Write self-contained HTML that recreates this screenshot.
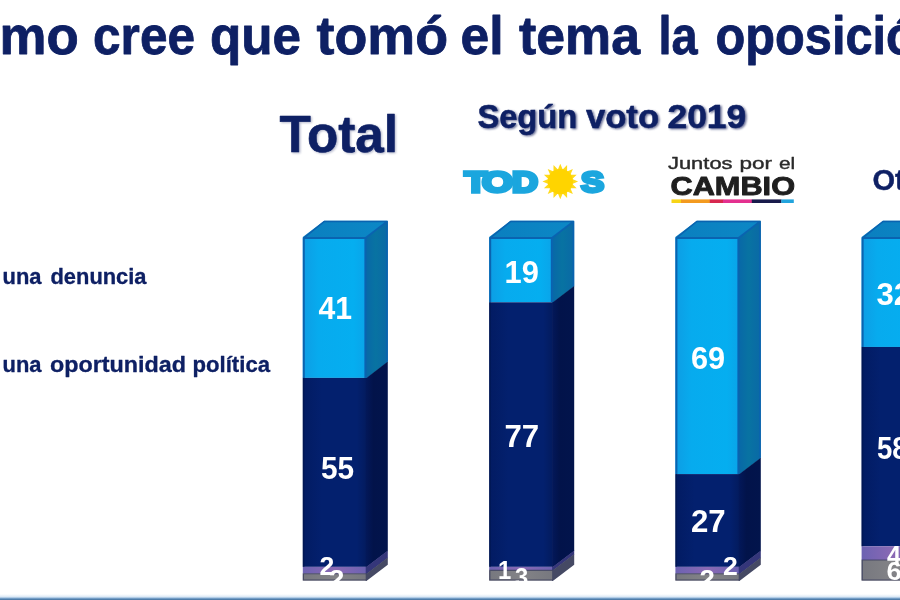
<!DOCTYPE html>
<html lang="es"><head><meta charset="utf-8"><title>Cómo cree que tomó el tema la oposición</title>
<style>
html,body{margin:0;padding:0;background:#fff}
body{width:900px;height:600px;overflow:hidden;position:relative;font-family:"Liberation Sans",sans-serif}
svg{position:absolute;left:0;top:0;display:block}
text{font-family:"Liberation Sans",sans-serif;font-weight:bold;stroke-linejoin:round}
.t{fill:#0E2064;stroke:#0E2064}
.sh{fill:#4a5180;stroke:#4a5180}
.n{fill:#fff}
.j text{font-weight:normal}
.j{fill:#2a2a2a;stroke:#2a2a2a}
.c{fill:#1f1f1f;stroke:#1f1f1f}
.td{fill:#1BA6DE;stroke:#1BA6DE}
.td text{stroke-linejoin:miter}
</style></head><body>
<svg width="900" height="600" viewBox="0 0 900 600">
<defs>
<filter id="blur" x="-10%" y="-30%" width="120%" height="160%"><feGaussianBlur stdDeviation="1.1"/></filter>
<linearGradient id="bl" x1="0" y1="0" x2="0" y2="1"><stop offset="0" stop-color="#ffffff"/><stop offset="0.4" stop-color="#e3eef8"/><stop offset="0.62" stop-color="#a9c6e2"/><stop offset="0.8" stop-color="#5d8cba"/><stop offset="1" stop-color="#44709c"/></linearGradient>
<linearGradient id="gL" x1="0" y1="0" x2="1" y2="0"><stop offset="0" stop-color="#0D9DE4"/><stop offset="0.25" stop-color="#07ABEE"/><stop offset="0.8" stop-color="#05AEF0"/><stop offset="1" stop-color="#0AA4E9"/></linearGradient>
<linearGradient id="gN" x1="0" y1="0" x2="1" y2="0"><stop offset="0" stop-color="#021B62"/><stop offset="0.3" stop-color="#03206E"/><stop offset="0.85" stop-color="#03206E"/><stop offset="1" stop-color="#031B5E"/></linearGradient>
<linearGradient id="gP" x1="0" y1="0" x2="1" y2="0"><stop offset="0" stop-color="#6C62B2"/><stop offset="0.5" stop-color="#8A69B4"/><stop offset="1" stop-color="#6C62B2"/></linearGradient>
<linearGradient id="gG" x1="0" y1="0" x2="1" y2="0"><stop offset="0" stop-color="#77787F"/><stop offset="0.5" stop-color="#838387"/><stop offset="1" stop-color="#77787F"/></linearGradient>
<linearGradient id="sL" x1="0" y1="0" x2="1" y2="0"><stop offset="0" stop-color="#0868A8"/><stop offset="0.45" stop-color="#0873A2"/><stop offset="1" stop-color="#0A69A6"/></linearGradient>
<linearGradient id="sN" x1="0" y1="0" x2="1" y2="0"><stop offset="0" stop-color="#03185A"/><stop offset="0.35" stop-color="#02134A"/><stop offset="1" stop-color="#02144C"/></linearGradient>
<linearGradient id="gTop" x1="0" y1="0" x2="1" y2="0"><stop offset="0" stop-color="#0A7FBF"/><stop offset="1" stop-color="#0C88C6"/></linearGradient>
</defs>
<rect width="900" height="600" fill="#fff"/>
<g class="t">
<text x="-0.5" y="54.2" font-size="53.5" stroke-width="0.8" textLength="79.24" lengthAdjust="spacingAndGlyphs">mo</text>
<text x="93.0" y="54.2" font-size="53.5" stroke-width="0.8" textLength="102.07" lengthAdjust="spacingAndGlyphs">cree</text>
<text x="210.0" y="54.2" font-size="53.5" stroke-width="0.8" textLength="91.11" lengthAdjust="spacingAndGlyphs">que</text>
<text x="316.5" y="54.2" font-size="53.5" stroke-width="0.8" textLength="131.55" lengthAdjust="spacingAndGlyphs">tomó</text>
<text x="460.5" y="54.2" font-size="53.5" stroke-width="0.8" textLength="43.04" lengthAdjust="spacingAndGlyphs">el</text>
<text x="519.0" y="54.2" font-size="53.5" stroke-width="0.8" textLength="121.01" lengthAdjust="spacingAndGlyphs">tema</text>
<text x="658.5" y="54.2" font-size="53.5" stroke-width="0.8" textLength="39.13" lengthAdjust="spacingAndGlyphs">la</text>
<text x="715.5" y="54.2" font-size="53.5" stroke-width="0.8" textLength="230.16" lengthAdjust="spacingAndGlyphs">oposición</text>
<text x="2.5" y="283.7" font-size="22" stroke-width="0.3" textLength="39.02" lengthAdjust="spacingAndGlyphs">una</text>
<text x="50.5" y="283.7" font-size="22" stroke-width="0.3" textLength="96.01" lengthAdjust="spacingAndGlyphs">denuncia</text>
<text x="2.5" y="371.7" font-size="22" stroke-width="0.3" textLength="39.02" lengthAdjust="spacingAndGlyphs">una</text>
<text x="50.0" y="371.7" font-size="22" stroke-width="0.3" textLength="136.03" lengthAdjust="spacingAndGlyphs">oportunidad</text>
<text x="192.5" y="371.7" font-size="22" stroke-width="0.3" textLength="77.51" lengthAdjust="spacingAndGlyphs">política</text>
<text x="872.5" y="189.7" font-size="29" stroke-width="0.4" textLength="77.45" lengthAdjust="spacingAndGlyphs">Otros</text>
</g>
<g class="sh" filter="url(#blur)" transform="translate(1.2,1.3)" opacity=".4">
<text x="279.5" y="152" font-size="52" stroke-width="0.6" textLength="118.58" lengthAdjust="spacingAndGlyphs">Total</text>
</g>
<g class="sh" filter="url(#blur)" transform="translate(1.5,1.6)" opacity=".85">
<text x="477.5" y="127.5" font-size="32.5" stroke-width="0.5" textLength="99.59" lengthAdjust="spacingAndGlyphs">Según</text>
<text x="586.0" y="127.5" font-size="32.5" stroke-width="0.5" textLength="73.02" lengthAdjust="spacingAndGlyphs">voto</text>
<text x="667.5" y="127.5" font-size="32.5" stroke-width="0.5" textLength="78.55" lengthAdjust="spacingAndGlyphs">2019</text>
</g>
<g class="t">
<text x="279.5" y="152" font-size="52" stroke-width="0.6" textLength="118.58" lengthAdjust="spacingAndGlyphs">Total</text>
<text x="477.5" y="127.5" font-size="32.5" stroke-width="0.5" textLength="99.59" lengthAdjust="spacingAndGlyphs">Según</text>
<text x="586.0" y="127.5" font-size="32.5" stroke-width="0.5" textLength="73.02" lengthAdjust="spacingAndGlyphs">voto</text>
<text x="667.5" y="127.5" font-size="32.5" stroke-width="0.5" textLength="78.55" lengthAdjust="spacingAndGlyphs">2019</text>
</g>
<g class="td">
<text x="464.5" y="191.8" font-size="29.6" font-family="DejaVu Sans, sans-serif" stroke-width="3.3" textLength="22.45" lengthAdjust="spacingAndGlyphs">T</text>
<text x="482.0" y="191.8" font-size="29.6" font-family="DejaVu Sans, sans-serif" stroke-width="3.3" textLength="31.02" lengthAdjust="spacingAndGlyphs">O</text>
<text x="512.0" y="191.8" font-size="29.6" font-family="DejaVu Sans, sans-serif" stroke-width="3.3" textLength="26.04" lengthAdjust="spacingAndGlyphs">D</text>
<text x="581.0" y="191.8" font-size="29.6" font-family="DejaVu Sans, sans-serif" stroke-width="3.3" textLength="23.08" lengthAdjust="spacingAndGlyphs">S</text>
</g>
<g transform="translate(560.3,181.5)"><polygon points="0.0,-17.8 2.4,-12.0 6.8,-16.4 6.8,-10.1 12.6,-12.6 10.1,-6.8 16.4,-6.8 12.0,-2.4 17.8,0.0 12.0,2.4 16.4,6.8 10.1,6.8 12.6,12.6 6.8,10.1 6.8,16.4 2.4,12.0 0.0,17.8 -2.4,12.0 -6.8,16.4 -6.8,10.1 -12.6,12.6 -10.1,6.8 -16.4,6.8 -12.0,2.4 -17.8,0.0 -12.0,-2.4 -16.4,-6.8 -10.1,-6.8 -12.6,-12.6 -6.8,-10.1 -6.8,-16.4 -2.4,-12.0" fill="#FFDA1A"/><circle r="12.6" fill="#FFD400"/></g>
<g class="j">
<text x="668.0" y="169" font-size="16.8" stroke-width="0.4" textLength="64.51" lengthAdjust="spacingAndGlyphs">Juntos</text>
<text x="739.5" y="169" font-size="16.8" stroke-width="0.4" textLength="32.55" lengthAdjust="spacingAndGlyphs">por</text>
<text x="779.0" y="169" font-size="16.8" stroke-width="0.4" textLength="16.24" lengthAdjust="spacingAndGlyphs">el</text>
</g>
<g class="c">
<text x="670.5" y="194.8" font-size="26" font-family="DejaVu Sans, sans-serif" stroke-width="0.9" textLength="124.55" lengthAdjust="spacingAndGlyphs">CAMBIO</text>
</g>
<g>
<rect x="671.5" y="199.4" width="10" height="3.6" fill="#F7D417"/>
<rect x="681" y="199.4" width="29" height="3.6" fill="#F39A1F"/>
<rect x="709.8" y="199.4" width="13.5" height="3.6" fill="#D7274F"/>
<rect x="723" y="199.4" width="29" height="3.6" fill="#E3308F"/>
<rect x="751.8" y="199.4" width="29.7" height="3.6" fill="#181B4B"/>
<rect x="781.3" y="199.4" width="12.5" height="3.6" fill="#22A4DD"/>
</g>
<g id="bar1">
<polygon points="302.8,237 324.2,220.7 387.8,220.7 366.4,237" fill="url(#gTop)"/>
<rect x="302.8" y="237" width="63.6" height="140.88" fill="url(#gL)"/>
<polygon points="365.7,237 366.4,237 387.8,220.7 387.8,362.08 366.4,378.38 365.7,378.38" fill="url(#sL)"/>
<rect x="302.8" y="377.88" width="63.6" height="188.98" fill="url(#gN)"/>
<polygon points="365.7,377.88 366.4,377.88 387.8,361.58 387.8,551.06 366.4,567.36 365.7,567.36" fill="url(#sN)"/>
<rect x="302.8" y="566.86" width="63.6" height="6.87" fill="url(#gP)"/>
<polygon points="365.7,566.86 366.4,566.86 387.8,550.56 387.8,557.93 366.4,574.23 365.7,574.23" fill="#35367A"/>
<rect x="302.8" y="573.73" width="63.6" height="6.87" fill="url(#gG)"/>
<polygon points="365.7,573.73 366.4,573.73 387.8,557.43 387.8,564.8 366.4,581.1 365.7,581.1" fill="#454964"/>
<path d="M303.8,377.88 V238 H365.4 V377.88" fill="none" stroke="#0A63B0" stroke-width="2" stroke-linejoin="round"/>
<path d="M303.8,238 L324.2,221.5 H387 V361.58 M365.4,238 L387,221.5" fill="none" stroke="#0A63B0" stroke-width="1.6" stroke-linejoin="round"/>
<rect x="302.8" y="377.88" width="1.6" height="188.98" fill="#02154F" opacity=".7"/>
<path d="M302.8,573.73 H366.4 M303.4,573.73 V580 H366.4" fill="none" stroke="#3A3D5C" stroke-width="1.2" opacity=".8"/>
</g>
<g id="bar2">
<polygon points="489.2,237 510.6,220.7 574.2,220.7 552.8,237" fill="url(#gTop)"/>
<rect x="489.2" y="237" width="63.6" height="65.28" fill="url(#gL)"/>
<polygon points="552.1,237 552.8,237 574.2,220.7 574.2,286.48 552.8,302.78 552.1,302.78" fill="url(#sL)"/>
<rect x="489.2" y="302.28" width="63.6" height="264.57" fill="url(#gN)"/>
<polygon points="552.1,302.28 552.8,302.28 574.2,285.98 574.2,551.06 552.8,567.36 552.1,567.36" fill="url(#sN)"/>
<rect x="489.2" y="566.86" width="63.6" height="3.44" fill="url(#gP)"/>
<polygon points="552.1,566.86 552.8,566.86 574.2,550.56 574.2,554.49 552.8,570.79 552.1,570.79" fill="#35367A"/>
<rect x="489.2" y="570.29" width="63.6" height="10.31" fill="url(#gG)"/>
<polygon points="552.1,570.29 552.8,570.29 574.2,553.99 574.2,564.8 552.8,581.1 552.1,581.1" fill="#454964"/>
<path d="M490.2,302.28 V238 H551.8 V302.28" fill="none" stroke="#0A63B0" stroke-width="2" stroke-linejoin="round"/>
<path d="M490.2,238 L510.6,221.5 H573.4 V285.98 M551.8,238 L573.4,221.5" fill="none" stroke="#0A63B0" stroke-width="1.6" stroke-linejoin="round"/>
<rect x="489.2" y="302.28" width="1.6" height="264.57" fill="#02154F" opacity=".7"/>
<path d="M489.2,570.29 H552.8 M489.8,570.29 V580 H552.8" fill="none" stroke="#3A3D5C" stroke-width="1.2" opacity=".8"/>
</g>
<g id="bar3">
<polygon points="675.4,237 696.8,220.7 760.8,220.7 739.4,237" fill="url(#gTop)"/>
<rect x="675.4" y="237" width="64" height="237.08" fill="url(#gL)"/>
<polygon points="738.7,237 739.4,237 760.8,220.7 760.8,458.28 739.4,474.58 738.7,474.58" fill="url(#sL)"/>
<rect x="675.4" y="474.08" width="64" height="92.77" fill="url(#gN)"/>
<polygon points="738.7,474.08 739.4,474.08 760.8,457.78 760.8,551.06 739.4,567.36 738.7,567.36" fill="url(#sN)"/>
<rect x="675.4" y="566.86" width="64" height="6.87" fill="url(#gP)"/>
<polygon points="738.7,566.86 739.4,566.86 760.8,550.56 760.8,557.93 739.4,574.23 738.7,574.23" fill="#35367A"/>
<rect x="675.4" y="573.73" width="64" height="6.87" fill="url(#gG)"/>
<polygon points="738.7,573.73 739.4,573.73 760.8,557.43 760.8,564.8 739.4,581.1 738.7,581.1" fill="#454964"/>
<path d="M676.4,474.08 V238 H738.4 V474.08" fill="none" stroke="#0A63B0" stroke-width="2" stroke-linejoin="round"/>
<path d="M676.4,238 L696.8,221.5 H760 V457.78 M738.4,238 L760,221.5" fill="none" stroke="#0A63B0" stroke-width="1.6" stroke-linejoin="round"/>
<rect x="675.4" y="474.08" width="1.6" height="92.77" fill="#02154F" opacity=".7"/>
<path d="M675.4,573.73 H739.4 M676,573.73 V580 H739.4" fill="none" stroke="#3A3D5C" stroke-width="1.2" opacity=".8"/>
</g>
<g id="bar4">
<polygon points="861.6,237 883,220.7 946.4,220.7 925,237" fill="url(#gTop)"/>
<rect x="861.6" y="237" width="63.4" height="109.95" fill="url(#gL)"/>
<polygon points="924.3,237 925,237 946.4,220.7 946.4,331.15 925,347.45 924.3,347.45" fill="url(#sL)"/>
<rect x="861.6" y="346.95" width="63.4" height="199.29" fill="url(#gN)"/>
<polygon points="924.3,346.95 925,346.95 946.4,330.65 946.4,530.44 925,546.74 924.3,546.74" fill="url(#sN)"/>
<rect x="861.6" y="546.24" width="63.4" height="13.74" fill="url(#gP)"/>
<polygon points="924.3,546.24 925,546.24 946.4,529.94 946.4,544.18 925,560.48 924.3,560.48" fill="#35367A"/>
<rect x="861.6" y="559.98" width="63.4" height="20.62" fill="url(#gG)"/>
<polygon points="924.3,559.98 925,559.98 946.4,543.68 946.4,564.8 925,581.1 924.3,581.1" fill="#454964"/>
<path d="M862.6,346.95 V238 H924 V346.95" fill="none" stroke="#0A63B0" stroke-width="2" stroke-linejoin="round"/>
<path d="M862.6,238 L883,221.5 H945.6 V330.65 M924,238 L945.6,221.5" fill="none" stroke="#0A63B0" stroke-width="1.6" stroke-linejoin="round"/>
<rect x="861.6" y="346.95" width="1.6" height="199.29" fill="#02154F" opacity=".7"/>
<path d="M861.6,559.98 H925 M862.2,559.98 V580 H925" fill="none" stroke="#3A3D5C" stroke-width="1.2" opacity=".8"/>
</g>
<g class="n">
<text x="318.5" y="319.4" font-size="30.6" textLength="33.55" lengthAdjust="spacingAndGlyphs">41</text>
<text x="321.0" y="479.4" font-size="30.6" textLength="33.16" lengthAdjust="spacingAndGlyphs">55</text>
<text x="504.5" y="282.5" font-size="30.6" textLength="34.34" lengthAdjust="spacingAndGlyphs">19</text>
<text x="504.5" y="447.2" font-size="30.6" textLength="34.71" lengthAdjust="spacingAndGlyphs">77</text>
<text x="691.0" y="368.6" font-size="30.6" textLength="34.15" lengthAdjust="spacingAndGlyphs">69</text>
<text x="691.0" y="532.2" font-size="30.6" textLength="34.7" lengthAdjust="spacingAndGlyphs">27</text>
<text x="876.5" y="304.5" font-size="30.6" textLength="34.59" lengthAdjust="spacingAndGlyphs">32</text>
<text x="877.0" y="458.5" font-size="30.6" textLength="30.65" lengthAdjust="spacingAndGlyphs">58</text>
<text x="319.5" y="574.5" font-size="26" textLength="14.82" lengthAdjust="spacingAndGlyphs">2</text>
<text x="329.0" y="588" font-size="26" textLength="15.36" lengthAdjust="spacingAndGlyphs">2</text>
<text x="498.0" y="579.4" font-size="26" textLength="13.26" lengthAdjust="spacingAndGlyphs">1</text>
<text x="515.0" y="585.5" font-size="26" textLength="13.24" lengthAdjust="spacingAndGlyphs">3</text>
<text x="723.0" y="575" font-size="26" textLength="14.81" lengthAdjust="spacingAndGlyphs">2</text>
<text x="699.5" y="587.5" font-size="26" textLength="15.35" lengthAdjust="spacingAndGlyphs">2</text>
<text x="887.0" y="563.6" font-size="26" textLength="14.0" lengthAdjust="spacingAndGlyphs">4</text>
<text x="886.5" y="580" font-size="26" textLength="15.26" lengthAdjust="spacingAndGlyphs">6</text>
</g>
<rect x="0" y="594" width="900" height="6" fill="url(#bl)"/>
</svg>
</body></html>
